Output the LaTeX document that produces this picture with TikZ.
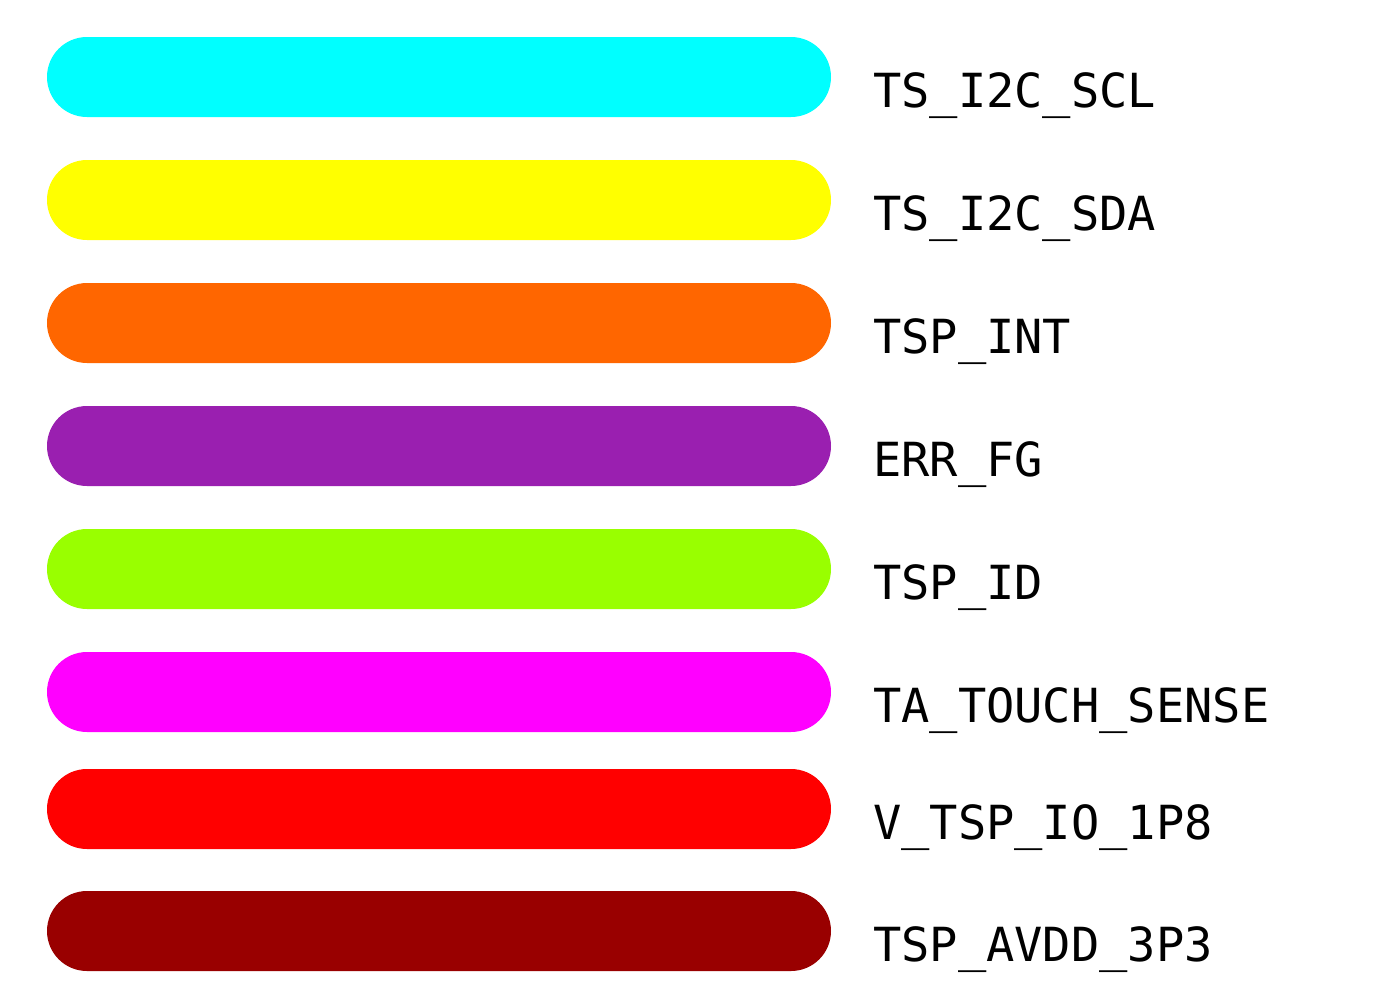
\documentclass[tikz,border=0pt]{standalone}
\usepackage{fontspec}
\setmonofont{DejaVu Sans Mono}
\definecolor{cCyan}{HTML}{00FFFF}
\definecolor{cYellow}{HTML}{FFFF00}
\definecolor{cOrange}{HTML}{FF6600}
\definecolor{cPurple}{HTML}{9A1FB0}
\definecolor{cGreen}{HTML}{99FF00}
\definecolor{cMagenta}{HTML}{FF00FF}
\definecolor{cRed}{HTML}{FF0000}
\definecolor{cDark}{HTML}{990000}
\begin{document}
\begin{tikzpicture}[x=1pt,y=-1pt,
  bar/.style={rectangle,rounded corners=40pt,minimum width=784pt,minimum height=80pt,inner sep=0pt,draw=none},
  lbl/.style={anchor=base west,inner sep=0pt,font=\fontsize{47}{50}\selectfont\ttfamily}]
\useasboundingbox (0,0) rectangle (1397,1001);
\fill[white] (0,0) rectangle (1397,1001);
\foreach \n/\y/\c/\t in {a/77/cCyan/TS\_I2C\_SCL,b/200/cYellow/TS\_I2C\_SDA,c/323/cOrange/TSP\_INT,d/446/cPurple/ERR\_FG,e/569/cGreen/TSP\_ID,f/692/cMagenta/TA\_TOUCH\_SENSE,g/809/cRed/V\_TSP\_IO\_1P8,h/931/cDark/TSP\_AVDD\_3P3}{
  \node[bar,fill=\c] (bar\n) at (439,\y) {};
  \node[lbl] (lbl\n) at (873,\y+30) {\t};
}
\end{tikzpicture}
\end{document}
